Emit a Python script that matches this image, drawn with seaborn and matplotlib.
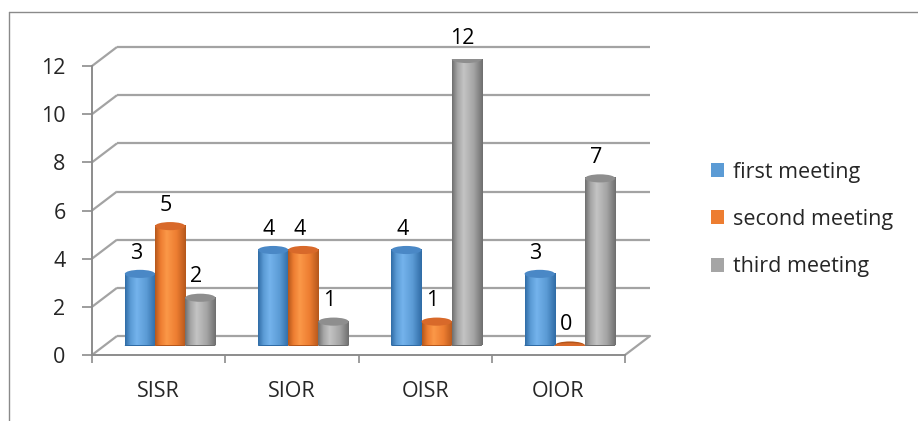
import numpy as np
import pandas as pd
import matplotlib
matplotlib.use("Agg")
import matplotlib.pyplot as plt
from matplotlib.patches import Ellipse, Patch
from matplotlib.lines import Line2D
from matplotlib.colors import LinearSegmentedColormap
import seaborn as sns

# ---- data ----
categories = ["SISR", "SIOR", "OISR", "OIOR"]
meetings = ["first meeting", "second meeting", "third meeting"]
first_meeting = [3, 4, 4, 3]
second_meeting = [5, 4, 1, 0]
third_meeting = [2, 1, 12, 7]
y_ticks = [0, 2, 4, 6, 8, 10, 12]

values = [first_meeting, second_meeting, third_meeting]
df = pd.DataFrame({
    "category": categories * len(meetings),
    "meeting": [m for m in meetings for _ in categories],
    "count": first_meeting + second_meeting + third_meeting,
})

# ---- styling ----
base_colors = ["#5B9BD5", "#ED7D31", "#A5A5A5"]
dark_colors = ["#2F6BA5", "#B4561B", "#6E6E6E"]
light_colors = ["#74B3EC", "#FB9848", "#C4C4C4"]
top_colors = ["#4A88C6", "#D8692A", "#8E8E8E"]
grid_color = "#A3A3A3"
axis_color = "#8C8C8C"
FS = 15.5

sns.set_theme(style="white")
plt.rcParams["font.family"] = ["Open Sans", "DejaVu Sans"]

W, H = 918, 421
fig = plt.figure(figsize=(W / 100, H / 100), dpi=100)


def px_axes(left, y_bottom, right, y_top):
    """Axes placed by pixel box (y measured from the top of the figure)."""
    return fig.add_axes([left / W, (H - y_bottom) / H,
                         (right - left) / W, (y_bottom - y_top) / H])


# front plane: value axis, category ticks, floor edge
ax = px_axes(92, 355, 625, 66)
# middle plane: the cylinders
axb = px_axes(103.5, 345.5, 636.5, 59)
ax.set_zorder(1)
axb.set_zorder(2)
axb.patch.set_visible(False)

ax.set_xlim(-0.5, 3.5)
ax.set_ylim(0, 12)
ax.patch.set_visible(False)
for s in ["top", "right"]:
    ax.spines[s].set_visible(False)
for s in ["left", "bottom"]:
    ax.spines[s].set_color(axis_color)
    ax.spines[s].set_linewidth(1.4)

ax.set_yticks(y_ticks)
ax.set_yticklabels([str(t) for t in y_ticks])
ax.tick_params(axis="y", length=7, width=1.2, color=axis_color, pad=12,
               labelsize=FS, left=True, direction="out")
ax.set_xticks([-0.5, 0.5, 1.5, 2.5, 3.5])
ax.set_xticklabels([])
ax.set_xticks(range(len(categories)), minor=True)
ax.set_xticklabels(categories, minor=True)
ax.tick_params(axis="x", which="major", length=6, width=1.2,
               color=axis_color, bottom=True, direction="out")
ax.tick_params(axis="x", which="minor", length=0, pad=19, labelsize=FS)
ax.set_xlabel("")
ax.set_ylabel("")
ax.grid(False)

# depth offset from the front plane to the back wall, in data units
ddx = 25 / (533 / 4)
ddy = 19 / (289 / 12)
for t in y_ticks:
    ax.plot([-0.5, -0.5 + ddx], [t, t + ddy], color=grid_color, lw=1.6,
            clip_on=False, solid_capstyle="butt")
    ax.plot([-0.5 + ddx, 3.5 + ddx], [t + ddy, t + ddy], color=grid_color,
            lw=1.6, clip_on=False, solid_capstyle="butt")
ax.plot([3.5, 3.5 + ddx], [0, ddy], color=grid_color, lw=1.6, clip_on=False)

# ---- cylinders ----
sns.barplot(data=df, x="category", y="count", hue="meeting",
            palette=base_colors, saturation=1, width=0.68, gap=0,
            ax=axb, legend=False, linewidth=0)
axb.set_xlim(-0.5, 3.5)
axb.set_ylim(0, 12)
axb.axis("off")

cap_h = 0.34
grad = np.linspace(0, 1, 256).reshape(1, -1)
for i, container in enumerate(axb.containers):
    cmap = LinearSegmentedColormap.from_list(
        f"cyl{i}",
        [(0.0, dark_colors[i]), (0.18, base_colors[i]), (0.38, light_colors[i]),
         (0.7, base_colors[i]), (1.0, dark_colors[i])])
    for j, bar in enumerate(container):
        v = values[i][j]
        x0, w = bar.get_x(), bar.get_width()
        xc = x0 + w / 2
        bar.set_visible(False)
        axb.add_patch(Ellipse((xc, 0), w, cap_h, facecolor=dark_colors[i],
                              edgecolor="none", zorder=3))
        if v > 0:
            axb.imshow(grad, cmap=cmap, extent=[x0, x0 + w, 0, v],
                       aspect="auto", zorder=4, interpolation="bilinear")
        axb.add_patch(Ellipse((xc, v), w, cap_h if v > 0 else cap_h * 0.6,
                              facecolor=top_colors[i], edgecolor="none",
                              zorder=5))
        axb.annotate(str(v), xy=(xc, v), xytext=(-3, 15),
                     textcoords="offset points", ha="center", va="center",
                     fontsize=FS, color="black")
axb.set_xlim(-0.5, 3.5)
axb.set_ylim(0, 12)

# ---- legend ----
handles = [Patch(facecolor=c, edgecolor="none") for c in base_colors]
fig.legend(handles, meetings, loc="center left",
           bbox_to_anchor=(711 / W, (H - 219.5) / H), frameon=False,
           fontsize=FS, handlelength=0.62, handleheight=0.62,
           handletextpad=0.4, labelspacing=1.22, borderpad=0,
           borderaxespad=0)

# ---- chart frame ----
fig.add_artist(Line2D([9 / W, 9 / W], [0, (H - 12) / H],
                      transform=fig.transFigure, color="#8A8A8A", lw=1))
fig.add_artist(Line2D([9 / W, 1], [(H - 12) / H, (H - 12) / H],
                      transform=fig.transFigure, color="#8A8A8A", lw=1))

fig.savefig("out.png", dpi=100, facecolor="white")
